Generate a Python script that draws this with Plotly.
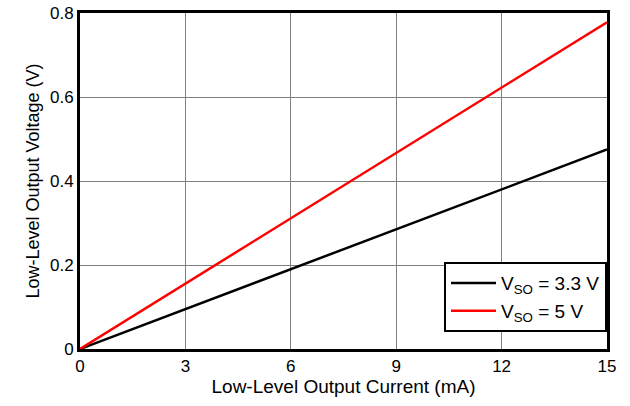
import plotly.graph_objects as go

current_ma = [0, 3, 6, 9, 12, 15]
v_so_33 = [0, 0.095, 0.19, 0.285, 0.38, 0.475]
v_so_5 = [0, 0.156, 0.311, 0.467, 0.622, 0.778]

FAM = "Liberation Sans, Arial, sans-serif"

fig = go.Figure()
fig.add_trace(go.Scatter(x=current_ma, y=v_so_33, mode="lines",
                         line=dict(color="black", width=2.5),
                         name="V<sub>SO</sub> = 3.3 V"))
fig.add_trace(go.Scatter(x=current_ma, y=v_so_5, mode="lines",
                         line=dict(color="#ff0000", width=2.5),
                         name="V<sub>SO</sub> = 5 V"))

fig.update_layout(
    width=630, height=406,
    margin=dict(l=80, r=23, t=13, b=57, autoexpand=False),
    paper_bgcolor="white", plot_bgcolor="white",
    font=dict(family=FAM, size=17, color="black"),
    showlegend=True,
    legend=dict(x=1, y=0.05, xanchor="right", yanchor="bottom",
                bordercolor="black", borderwidth=2, bgcolor="white",
                font=dict(family=FAM, size=19, color="black"),
                tracegroupgap=0, itemwidth=45),
    xaxis=dict(range=[0, 15], dtick=3, tick0=0, showgrid=True, gridcolor="#808080",
               gridwidth=1, showline=True, linecolor="black", linewidth=3, mirror=True,
               ticks="", zeroline=False, tickfont=dict(family=FAM, size=17, color="black"),
               title=dict(text="Low-Level Output Current (mA)",
                          font=dict(family=FAM, size=19, color="black"), standoff=2)),
    yaxis=dict(range=[0, 0.8], dtick=0.2, tick0=0, showgrid=True, gridcolor="#808080",
               gridwidth=1, showline=True, linecolor="black", linewidth=3, mirror=True,
               ticks="", zeroline=False, tickfont=dict(family=FAM, size=17, color="black"),
               title=dict(text="Low-Level Output Voltage (V)",
                          font=dict(family=FAM, size=18, color="black"), standoff=6)),
)
fig.write_html("out.html", config={"displayModeBar": False},
               post_script="document.body.style.margin='0';document.body.style.padding='0';")
